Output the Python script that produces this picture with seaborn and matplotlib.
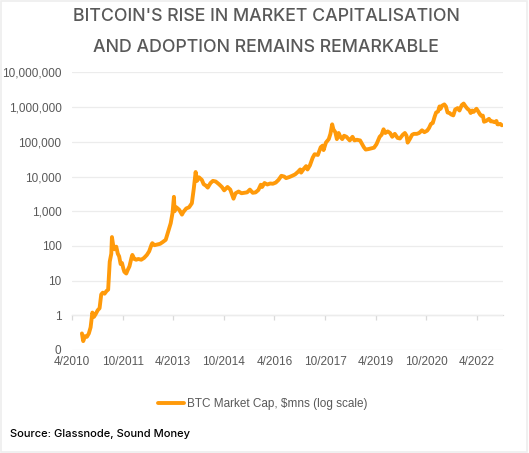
import pandas as pd
import matplotlib
matplotlib.use("Agg")
import matplotlib.pyplot as plt
import matplotlib.ticker as mticker
import seaborn as sns

# BTC market cap, $mns (roughly monthly)
months = [
    "2010-07-18", "2010-08-01", "2010-08-20", "2010-09-10", "2010-10-01", "2010-10-20",
    "2010-11-08", "2010-11-25", "2010-12-15", "2011-01-05", "2011-01-25", "2011-02-12",
    "2011-03-01", "2011-03-20", "2011-04-10", "2011-04-28", "2011-05-15", "2011-06-01",
    "2011-06-08", "2011-06-20", "2011-07-05", "2011-07-25", "2011-08-10", "2011-08-25",
    "2011-09-10", "2011-09-25", "2011-10-10", "2011-10-20", "2011-11-10", "2011-11-25",
    "2011-12-15", "2012-01-05", "2012-01-15", "2012-02-05", "2012-02-25", "2012-03-20",
    "2012-04-20", "2012-05-20", "2012-06-20", "2012-07-15", "2012-08-10", "2012-08-18",
    "2012-09-10", "2012-10-10", "2012-11-10", "2012-12-10", "2013-01-10", "2013-02-10",
    "2013-03-05", "2013-03-25", "2013-04-09", "2013-04-16", "2013-05-05", "2013-06-05",
    "2013-07-05", "2013-07-20", "2013-08-20", "2013-09-20", "2013-10-20", "2013-11-10",
    "2013-11-30", "2013-12-15", "2014-01-05", "2014-02-05", "2014-02-25", "2014-03-20",
    "2014-04-10", "2014-05-10", "2014-06-05", "2014-07-05", "2014-08-10", "2014-09-10",
    "2014-10-05", "2014-11-10", "2014-12-10", "2015-01-14", "2015-02-05", "2015-03-10",
    "2015-04-10", "2015-05-10", "2015-06-10", "2015-07-10", "2015-08-10", "2015-09-10",
    "2015-10-10", "2015-11-05", "2015-11-20", "2015-12-15", "2016-01-15", "2016-02-15",
    "2016-03-15", "2016-04-15", "2016-05-15", "2016-06-15", "2016-07-15", "2016-08-05",
    "2016-09-10", "2016-10-10", "2016-11-10", "2016-12-10", "2017-01-05", "2017-01-15",
    "2017-02-15", "2017-03-10", "2017-03-25", "2017-04-20", "2017-05-20", "2017-06-10",
    "2017-07-15", "2017-08-15", "2017-09-05", "2017-09-15", "2017-10-10", "2017-11-10",
    "2017-11-28", "2017-12-17", "2017-12-30", "2018-01-20", "2018-02-06", "2018-02-25",
    "2018-03-15", "2018-04-05", "2018-04-25", "2018-05-20", "2018-06-25", "2018-07-25",
    "2018-08-15", "2018-09-10", "2018-10-15", "2018-11-25", "2018-12-15", "2019-01-15",
    "2019-02-15", "2019-03-15", "2019-04-10", "2019-05-15", "2019-06-05", "2019-06-26",
    "2019-07-15", "2019-08-10", "2019-09-05", "2019-09-28", "2019-10-26", "2019-11-25",
    "2019-12-20", "2020-01-20", "2020-02-12", "2020-03-01", "2020-03-13", "2020-04-05",
    "2020-04-30", "2020-05-20", "2020-06-20", "2020-07-15", "2020-08-15", "2020-09-10",
    "2020-10-10", "2020-10-30", "2020-11-20", "2020-12-10", "2020-12-30", "2021-01-15",
    "2021-02-05", "2021-02-21", "2021-03-05", "2021-03-20", "2021-04-14", "2021-05-01",
    "2021-05-19", "2021-06-10", "2021-06-25", "2021-07-20", "2021-08-10", "2021-09-05",
    "2021-09-25", "2021-10-20", "2021-11-09", "2021-11-30", "2021-12-20", "2022-01-10",
    "2022-01-24", "2022-02-10", "2022-02-25", "2022-03-28", "2022-04-15", "2022-05-05",
    "2022-05-20", "2022-06-05", "2022-06-18", "2022-07-10", "2022-08-10", "2022-08-30",
    "2022-09-15", "2022-10-10", "2022-10-30", "2022-11-10", "2022-11-25", "2022-12-10",
    "2022-12-28",
]
market_cap = [
    0.30, 0.18, 0.25, 0.24, 0.30, 0.45,
    1.2, 0.9, 1.1, 1.4, 1.6, 4.0,
    4.5, 4.2, 5.0, 5.5, 35, 60,
    180, 110, 80, 95, 60, 50,
    30, 32, 22, 18, 16, 20,
    26, 45, 55, 42, 40, 42,
    40, 45, 55, 70, 110, 120,
    105, 110, 115, 130, 150, 280,
    450, 900, 2600, 1000, 1300, 1100,
    800, 950, 1200, 1300, 1700, 4500,
    13500, 7500, 9500, 8000, 6000, 5500,
    4800, 6500, 7500, 7200, 6000, 5000,
    4000, 5000, 4200, 2300, 3300, 3700,
    3300, 3400, 3500, 4200, 3400, 3500,
    4100, 5800, 5000, 6500, 5900, 6300,
    6200, 6700, 8000, 10500, 10000, 9000,
    9700, 10500, 11500, 13500, 16000, 13000,
    17000, 20000, 16000, 21000, 35000, 44000,
    42000, 70000, 78000, 58000, 95000, 120000,
    170000, 320000, 230000, 190000, 120000, 180000,
    140000, 120000, 150000, 140000, 110000, 140000,
    110000, 115000, 110000, 70000, 60000, 62000,
    65000, 68000, 85000, 140000, 160000, 230000,
    180000, 200000, 180000, 140000, 170000, 130000,
    125000, 160000, 180000, 150000, 95000, 120000,
    160000, 170000, 170000, 180000, 215000, 190000,
    210000, 250000, 330000, 350000, 530000, 700000,
    750000, 1050000, 900000, 1100000, 1200000, 1050000,
    700000, 680000, 620000, 580000, 860000, 940000,
    800000, 1150000, 1270000, 1050000, 900000, 810000,
    680000, 800000, 730000, 900000, 760000, 620000,
    560000, 570000, 380000, 400000, 460000, 390000,
    390000, 370000, 400000, 320000, 320000, 330000,
    300000,
]

df = pd.DataFrame({"date": pd.to_datetime(months), "cap": market_cap})

tick_dates = pd.date_range("2010-04-01", periods=9, freq="18MS")
y_ticks = [0.1, 1, 10, 100, 1e3, 1e4, 1e5, 1e6, 1e7]

sns.set_theme(style="white")
plt.rcParams["font.family"] = ["Liberation Sans", "DejaVu Sans"]

grey = "#595959"
fig = plt.figure(figsize=(5.29, 4.53), dpi=100)
ax = fig.add_axes([0.136, 0.2274, 0.815, 0.6126])

sns.lineplot(data=df, x="date", y="cap", ax=ax, color="#FF9A0A", linewidth=2.8,
             label="BTC Market Cap, $mns (log scale)")

ax.set_yscale("log")
ax.set_ylim(0.1, 1e7)
ax.set_xlim(pd.Timestamp("2010-04-01"), pd.Timestamp("2023-01-10"))
ax.yaxis.set_major_locator(mticker.FixedLocator(y_ticks))
ax.yaxis.set_minor_locator(mticker.NullLocator())
ax.yaxis.set_major_formatter(mticker.FuncFormatter(lambda v, p: f"{v:,.0f}"))
ax.set_xticks(tick_dates)
ax.set_xticklabels([f"{d.month}/{d.year}" for d in tick_dates])
ax.grid(axis="y", color="#ececec", linewidth=0.9)
ax.grid(axis="x", visible=False)
ax.tick_params(axis="both", length=0, labelsize=8.5, colors=grey)
ax.tick_params(axis="y", pad=7.5)
ax.tick_params(axis="x", pad=4.5)
for s in ax.spines.values():
    s.set_visible(False)
ax.set_xlabel("")
ax.set_ylabel("")

# category axis crossing at 1
sec = ax.secondary_xaxis(1 / 8)
sec.set_xticks(tick_dates)
sec.set_xticklabels([])
sec.spines["bottom"].set_color("#d9d9d9")
sec.spines["bottom"].set_linewidth(0.9)
sec.tick_params(axis="x", direction="out", length=3.5, width=0.9, color="#d9d9d9")

leg = ax.legend(loc="center", bbox_to_anchor=(0.497, 0.108), bbox_transform=fig.transFigure,
                frameon=False, fontsize=8.5, handlelength=2.2, handletextpad=0.25)
for t in leg.get_texts():
    t.set_color(grey)

fig.text(0.503, 0.9625, "BITCOIN'S RISE IN MARKET CAPITALISATION", ha="center", va="center",
         fontsize=12.8, color=grey, family="Inter", weight="medium")
fig.text(0.503, 0.896, "AND ADOPTION REMAINS REMARKABLE", ha="center", va="center",
         fontsize=12.8, color=grey, family="Inter", weight="medium")
fig.text(0.019, 0.042, "Source: Glassnode, Sound Money", ha="left", va="center",
         fontsize=8.0, color="black", family="Inter", weight="medium")

fig.patches.append(plt.Rectangle((0.002, 0.002), 0.995, 0.995, transform=fig.transFigure,
                                 fill=False, edgecolor="#eeeeee", linewidth=1.2))

fig.savefig("out.png", dpi=100, facecolor="white")
